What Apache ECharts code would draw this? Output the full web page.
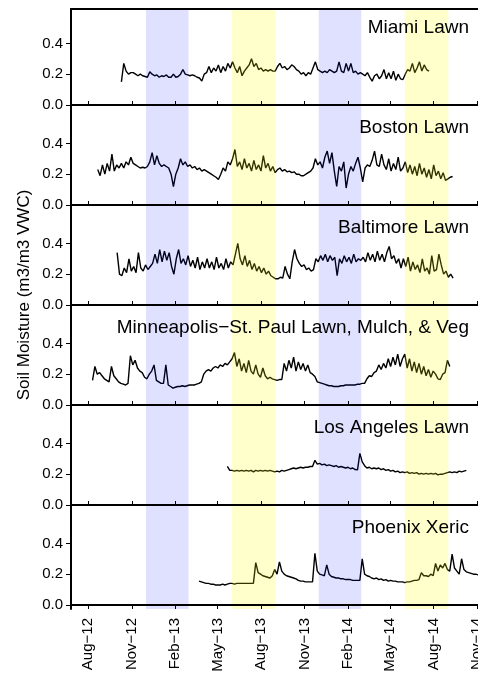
<!DOCTYPE html>
<html><head><meta charset="utf-8">
<script src="https://cdn.jsdelivr.net/npm/echarts@6/dist/echarts.min.js"></script>
<style>html,body{margin:0;padding:0;background:#fff;}#c{width:478px;height:675px;}</style>
</head><body><div id="c"></div>
<script>
// ---------- data ----------
const panelTitles = ['Miami Lawn', 'Boston Lawn', 'Baltimore Lawn', 'Minneapolis\u2212St. Paul Lawn, Mulch, & Veg', 'Los Angeles Lawn', 'Phoenix Xeric'];
const yAxisTitle = 'Soil Moisture (m3/m3 VWC)';
const tickDates = ['2012-08-01','2012-11-01','2013-02-01','2013-05-01','2013-08-01','2013-11-01','2014-02-01','2014-05-01','2014-08-01','2014-11-01'];
const tickLabels = ['Aug\u221212','Nov\u221212','Feb\u221213','May\u221213','Aug\u221213','Nov\u221213','Feb\u221214','May\u221214','Aug\u221214','Nov\u221214'];
const yTickValues = [0, 0.2, 0.4];
const winterPeriods = [['2012-12-01','2013-03-01'], ['2013-12-01','2014-03-01']];
const summerPeriods = [['2013-06-01','2013-09-01'], ['2014-06-01','2014-09-01']];
const stepDays = 5;

const miamiStart = '2012-10-10';
const miamiValues = [0.15,0.27,0.22,0.2,0.21,
 0.21,0.2,0.19,0.2,0.19,0.185,
 0.18,0.215,0.2,0.19,0.195,0.18,
 0.19,0.185,0.195,0.18,0.18,0.2,
 0.18,0.185,0.2,0.23,0.2,0.195,
 0.19,0.195,0.19,0.18,0.175,0.155,
 0.2,0.21,0.25,0.21,0.24,0.22,
 0.26,0.21,0.25,0.22,0.27,0.24,
 0.28,0.24,0.21,0.25,0.19,0.22,
 0.24,0.26,0.3,0.25,0.27,0.23,
 0.24,0.22,0.23,0.22,0.23,0.22,
 0.22,0.25,0.27,0.24,0.25,0.23,
 0.24,0.26,0.25,0.23,0.22,0.2,0.21,
 0.19,0.21,0.2,0.24,0.28,0.23,
 0.22,0.21,0.22,0.21,0.23,0.22,
 0.21,0.22,0.28,0.22,0.21,0.27,
 0.22,0.27,0.21,0.22,0.2,0.21,
 0.2,0.19,0.21,0.18,0.155,0.19,
 0.2,0.17,0.19,0.23,0.17,0.21,
 0.17,0.22,0.16,0.2,0.17,0.165,
 0.2,0.23,0.22,0.27,0.21,0.24,
 0.28,0.22,0.26,0.23,0.22];

const bostonStart = '2012-08-21';
const bostonValues = [0.23,0.19,0.26,0.2,0.27,0.22,0.33,0.22,0.26,0.24,0.27,0.24,0.28,0.26,0.31,0.27,
 0.26,0.25,0.24,0.245,0.24,0.25,
 0.28,0.34,0.26,0.32,0.27,0.25,
 0.26,0.25,0.24,0.2,0.12,0.2,
 0.24,0.3,0.26,0.28,0.25,0.26,
 0.24,0.25,0.23,0.24,0.22,0.23,0.22,0.21,0.2,0.19,
 0.18,0.165,0.2,0.24,0.22,0.28,0.26,0.3,0.36,
 0.25,0.28,0.23,0.3,0.24,0.27,0.22,0.29,0.23,0.26,0.22,0.32,0.24,0.27,0.22,0.25,0.21,
 0.23,0.24,0.22,0.23,0.215,0.22,0.21,0.215,0.2,0.2,0.19,0.19,0.2,0.21,0.22,
 0.24,0.3,0.26,0.28,0.24,0.31,0.35,0.27,0.34,0.22,0.12,0.25,0.22,0.28,0.11,0.2,0.25,0.22,0.27,0.31,0.24,0.15,
 0.24,0.26,0.25,0.29,0.35,0.26,0.25,0.33,0.26,
 0.23,0.3,0.22,0.27,0.23,0.31,0.22,0.24,
 0.28,0.21,0.26,0.2,0.25,0.19,0.27,0.2,0.24,0.18,0.23,0.17,0.26,0.19,0.22,0.17,0.21,0.16,0.17,0.18,0.185];

const baltimoreStart = '2012-10-01';
const baltimoreValues = [0.34,0.2,0.19,0.24,0.21,0.3,0.22,0.25,0.21,0.34,0.24,0.22,0.26,0.23,
 0.25,0.27,0.33,0.27,0.36,0.28,0.35,0.29,0.34,0.25,0.2,0.3,
 0.36,0.27,0.3,0.26,0.32,0.25,0.29,0.24,0.31,0.23,0.28,0.24,0.3,0.24,0.28,0.23,0.31,0.24,0.27,0.23,0.3,0.24,0.28,0.26,
 0.33,0.4,0.3,0.26,0.32,0.25,0.29,0.23,0.27,0.22,0.25,0.21,0.24,0.2,0.22,0.19,0.18,0.17,
 0.17,0.18,0.175,0.25,0.2,0.17,0.28,0.36,0.3,
 0.27,0.25,0.26,0.23,0.24,0.22,0.23,
 0.3,0.28,0.32,0.29,0.33,0.28,0.32,0.29,0.31,0.19,0.3,0.27,0.32,0.28,0.31,0.27,0.33,0.28,0.3,
 0.29,0.31,0.28,0.34,0.29,0.33,0.28,0.35,0.29,0.33,0.28,0.34,0.38,0.3,0.32,0.27,0.3,0.24,
 0.3,0.25,0.31,0.22,0.28,0.23,0.26,0.21,0.3,0.22,0.24,0.2,0.32,0.22,0.23,0.33,0.26,0.2,0.22,0.18,0.2,0.175];

const minneapolisStart = '2012-08-10';
const minneapolisValues = [0.16,0.25,0.2,0.21,0.19,0.17,0.16,0.15,0.25,0.19,
 0.17,0.15,0.14,0.135,0.13,0.14,0.32,0.26,0.29,0.24,
 0.22,0.21,0.18,0.17,0.2,0.22,0.26,0.16,0.15,0.14,
 0.14,0.26,0.13,0.12,0.11,0.115,0.12,0.12,0.125,0.12,
 0.125,0.13,0.13,0.13,0.135,0.14,0.15,0.2,0.22,0.23,
 0.22,0.24,0.25,0.24,0.26,0.25,0.27,0.26,0.28,0.3,
 0.34,0.25,0.3,0.22,0.27,0.21,0.29,0.22,0.2,0.26,0.2,0.18,0.24,0.19,0.17,0.18,0.17,0.165,0.16,0.165,
 0.165,0.27,0.22,0.29,0.24,0.31,0.22,0.28,0.23,0.27,0.22,0.26,0.21,0.2,0.185,0.15,0.145,0.14,0.135,0.13,
 0.125,0.125,0.12,0.12,0.12,0.125,0.125,0.13,0.13,0.13,0.13,0.13,0.135,0.135,0.14,0.14,0.17,0.19,0.185,0.21,
 0.22,0.26,0.23,0.27,0.24,0.3,0.25,0.31,0.26,0.33,0.25,0.3,0.33,0.24,0.3,0.22,0.28,0.21,0.27,0.2,
 0.25,0.19,0.23,0.18,0.22,0.2,0.17,0.165,0.2,0.21,0.29,0.25];

const losAngelesStart = '2013-05-22';
const losAngelesValues = [0.25,0.225,0.225,0.22,0.225,0.22,0.225,0.22,0.225,0.22,
 0.225,0.215,0.225,0.22,0.225,0.22,0.225,0.22,0.225,0.22,
 0.215,0.22,0.215,0.225,0.22,0.225,0.23,0.235,0.24,0.235,
 0.24,0.245,0.24,0.245,0.245,0.25,0.25,0.29,0.265,0.27,
 0.26,0.265,0.255,0.26,0.255,0.25,0.255,0.245,0.25,0.245,
 0.24,0.245,0.235,0.24,0.23,0.228,0.335,0.28,0.255,0.24,
 0.245,0.235,0.24,0.235,0.24,0.23,0.235,0.225,0.23,0.22,
 0.225,0.215,0.22,0.21,0.215,0.21,0.215,0.205,0.21,0.205,
 0.21,0.2,0.205,0.2,0.205,0.2,0.205,0.2,0.205,0.195,
 0.2,0.2,0.205,0.21,0.215,0.21,0.215,0.21,0.22,0.215,0.22,0.225];

const phoenixStart = '2013-03-23';
const phoenixValues = [0.155,0.15,0.145,0.14,0.14,0.135,0.135,0.13,0.13,0.13,
 0.135,0.13,0.135,0.14,0.14,0.135,0.14,0.14,0.14,0.14,
 0.14,0.14,0.14,0.14,0.275,0.21,0.2,0.19,0.185,0.18,
 0.175,0.19,0.23,0.2,0.28,0.22,0.2,0.19,0.185,0.18,
 0.175,0.17,0.16,0.155,0.155,0.15,0.15,0.15,0.15,0.335,
 0.22,0.2,0.195,0.19,0.26,0.2,0.185,0.18,0.175,0.175,
 0.17,0.17,0.165,0.165,0.165,0.16,0.16,0.16,0.16,0.3,
 0.2,0.19,0.185,0.175,0.17,0.175,0.165,0.17,0.16,0.165,
 0.155,0.16,0.155,0.155,0.15,0.15,0.15,0.145,0.15,0.15,
 0.155,0.16,0.16,0.165,0.21,0.19,0.19,0.185,0.2,0.19,
 0.27,0.22,0.26,0.24,0.27,0.23,0.22,0.33,0.24,0.22,
 0.2,0.3,0.23,0.215,0.21,0.205,0.2,0.2,0.195,0.19];

// ---------- build ----------
const DAY = 86400000;
const ts = s => Date.parse(s + 'T00:00:00Z');
const build = (start, vals) => { const t0 = ts(start); return vals.map((v, i) => [t0 + i * stepDays * DAY, v]); };
const seriesData = [
  build(miamiStart, miamiValues),
  build(bostonStart, bostonValues),
  build(baltimoreStart, baltimoreValues),
  build(minneapolisStart, minneapolisValues),
  build(losAngelesStart, losAngelesValues),
  build(phoenixStart, phoenixValues)
];
const tickTs = tickDates.map(ts);
const shadeData = winterPeriods.map(p => [ts(p[0]), ts(p[1]), 0]).concat(summerPeriods.map(p => [ts(p[0]), ts(p[1]), 1]));

const xMin = ts('2012-06-25') + DAY / 2;
const xMax = ts('2014-12-01');
const FONT = '"Liberation Sans", Arial, Helvetica, sans-serif';
const N = 6, TOP = 9, H = 100, LEFT = 71, W = 420.4;

const grids = [], xAxes = [], yAxes = [], series = [], titles = [];
for (let i = 0; i < N; i++) {
  const last = i === N - 1;
  grids.push({ left: LEFT, top: TOP + H * i, width: W, height: H, containLabel: false, outerBoundsMode: 'none' });
  xAxes.push({
    type: 'value', gridIndex: i, min: xMin, max: xMax, z: 20,
    axisLine: { show: true, lineStyle: { color: '#000', width: 2 } },
    axisTick: { show: true, inside: !last, length: 4, customValues: tickTs, lineStyle: { color: '#000', width: 1 } },
    axisLabel: last ? {
      show: true, customValues: tickTs, rotate: 90, margin: 9, fontSize: 15, fontFamily: FONT, color: '#000',
      formatter: v => { const k = tickTs.findIndex(t => Math.abs(t - v) < DAY); return k >= 0 ? tickLabels[k] : ''; }
    } : { show: false },
    splitLine: { show: false }
  });
  yAxes.push({
    type: 'value', gridIndex: i, min: -0.026, max: 0.623, z: 20,
    axisLine: { show: true, lineStyle: { color: '#000', width: 2 } },
    axisTick: { show: true, length: 5, customValues: yTickValues, lineStyle: { color: '#000', width: 1 } },
    axisLabel: { show: true, customValues: yTickValues, margin: 8, fontSize: 15, fontFamily: FONT, color: '#000', formatter: v => v.toFixed(1) },
    splitLine: { show: false }
  });
  series.push({
    type: 'line', xAxisIndex: i, yAxisIndex: i, data: seriesData[i], showSymbol: false, z: 2,
    lineStyle: { color: '#000', width: 1.4 }, animation: false, silent: true
  });
  series.push({
    type: 'custom', xAxisIndex: i, yAxisIndex: i, z: 5, silent: true, animation: false,
    data: shadeData, encode: { x: [0, 1] },
    renderItem: (params, api) => {
      const x0 = api.coord([api.value(0), 0])[0];
      const x1 = api.coord([api.value(1), 0])[0];
      const cs = params.coordSys;
      return { type: 'rect', shape: { x: x0, y: cs.y, width: x1 - x0, height: cs.height },
        style: { fill: api.value(2) === 0 ? 'rgba(0,0,255,0.12)' : 'rgba(255,255,0,0.2)' } };
    }
  });
  titles.push({ text: panelTitles[i], right: 9, top: TOP + H * i + 9.5, padding: 0,
    textStyle: { fontSize: 19, fontWeight: 'normal', fontFamily: FONT, color: '#000' } });
}
// top border of first panel
xAxes.push({ type: 'value', gridIndex: 0, position: 'top', min: xMin, max: xMax, z: 20,
  axisLine: { show: true, lineStyle: { color: '#000', width: 2 } }, axisTick: { show: false }, axisLabel: { show: false }, splitLine: { show: false } });

const chart = echarts.init(document.getElementById('c'), null, { renderer: 'canvas' });
chart.setOption({
  animation: false,
  backgroundColor: '#fff',
  title: titles,
  grid: grids,
  xAxis: xAxes,
  yAxis: yAxes,
  series: series,
  graphic: [{ type: 'text', x: 24, y: 295, rotation: Math.PI / 2,
    style: { text: yAxisTitle, font: '17px ' + FONT, fill: '#000', textAlign: 'center', textVerticalAlign: 'middle' } }]
});
</script></body></html>
